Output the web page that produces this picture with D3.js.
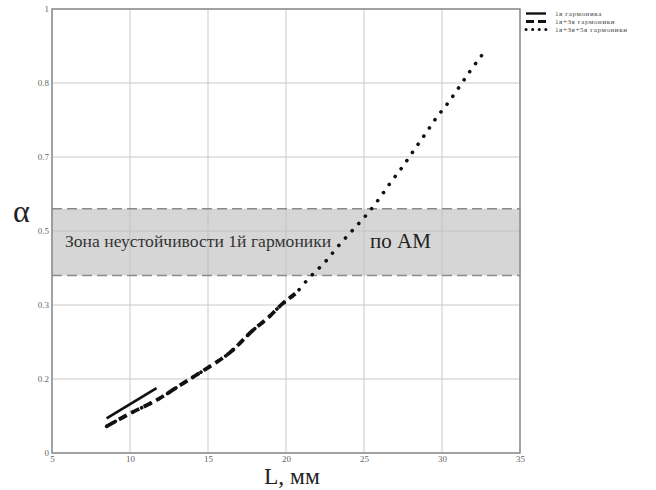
<!DOCTYPE html>
<html>
<head>
<meta charset="utf-8">
<script src="https://cdn.jsdelivr.net/npm/d3@7"></script>
<style>
  html, body { margin: 0; padding: 0; background: #fff; }
  svg { display: block; }
</style>
</head>
<body>
<svg id="chart" width="656" height="490"></svg>
<script>
// Stability parameter α versus length L for the harmonic approximations
const xTicks = [5, 10, 15, 20, 25, 30, 35];
const yTicks = [0, 1/6, 2/6, 3/6, 4/6, 5/6, 1];
const yTickLabels = ["0", "0.2", "0.3", "0.5", "0.7", "0.8", "1"];

// 1st harmonic only
const h1L = [8.5, 11.7];
const h1A = [0.078, 0.146];

// 1st + 3rd harmonics
const h13L = [8.5, 10, 11.7, 13.4, 14.9, 16.4, 17.9, 18.8, 19.8, 20.6];
const h13A = [0.060, 0.089, 0.119, 0.157, 0.190, 0.226, 0.277, 0.303, 0.337, 0.359];

// 1st + 3rd + 5th harmonics
const h135L = [8.5, 10, 11.7, 13.4, 14.9, 16.4, 17.9, 18.8, 19.8, 20.6, 21.5, 22.5, 23.4, 24.3,
               25.2, 26.0, 26.7, 27.5, 28.2, 28.9, 29.6, 30.4, 31.1, 31.8, 32.6];
const h135A = [0.060, 0.089, 0.119, 0.157, 0.190, 0.226, 0.277, 0.303, 0.337, 0.359, 0.395, 0.430,
               0.468, 0.503, 0.538, 0.574, 0.609, 0.646, 0.682, 0.717, 0.753, 0.789, 0.824, 0.860, 0.898];

// instability zone of the 1st harmonic (AM)
const zoneRange = [0.40, 0.55];
const zoneText = "Зона неустойчивости 1й гармоники";
const zoneText2 = "по АМ";

const legendLabels = ["1я гармоника", "1я+3я гармоники", "1я+3я+5я гармоники"];

const SERIF = "Liberation Serif, DejaVu Serif, serif";
const svg = d3.select("#chart").attr("font-family", SERIF);
const pLeft = 52, pRight = 520, pTop = 9, pBottom = 453;

const x = d3.scaleLinear().domain([5, 35]).range([pLeft, pRight]);
const y = d3.scaleLinear().domain([0, 1]).range([pBottom, pTop]);

// grid
const grid = svg.append("g");
grid.selectAll("line.v").data(xTicks).join("line")
  .attr("x1", d => x(d)).attr("x2", d => x(d))
  .attr("y1", pTop).attr("y2", pBottom)
  .attr("stroke", "#c9c9c9").attr("stroke-width", 1);
grid.selectAll("line.h").data(yTicks).join("line")
  .attr("x1", pLeft).attr("x2", pRight)
  .attr("y1", d => y(d)).attr("y2", d => y(d))
  .attr("stroke", "#c9c9c9").attr("stroke-width", 1);

// zone band
svg.append("rect")
  .attr("x", pLeft).attr("width", pRight - pLeft)
  .attr("y", y(zoneRange[1])).attr("height", y(zoneRange[0]) - y(zoneRange[1]))
  .attr("fill", "#d6d6d6");
// grid lines stay faintly visible through the band
svg.append("g").selectAll("line").data(xTicks).join("line")
  .attr("x1", d => x(d)).attr("x2", d => x(d))
  .attr("y1", y(zoneRange[1])).attr("y2", y(zoneRange[0]))
  .attr("stroke", "#c2c2c2").attr("stroke-width", 1);
svg.append("line")
  .attr("x1", pLeft).attr("x2", pRight).attr("y1", y(0.5)).attr("y2", y(0.5))
  .attr("stroke", "#c2c2c2").attr("stroke-width", 1);
svg.append("g").selectAll("line").data(zoneRange).join("line")
  .attr("x1", pLeft).attr("x2", pRight)
  .attr("y1", d => y(d)).attr("y2", d => y(d))
  .attr("stroke", "#8a8a8a").attr("stroke-width", 1.5)
  .attr("stroke-dasharray", "10,5");

svg.append("text").text(zoneText)
  .attr("x", 65).attr("y", 247).attr("font-family", SERIF)
  .attr("font-size", 17.6).attr("fill", "#333");
svg.append("text").text(zoneText2)
  .attr("x", 370).attr("y", 248).attr("font-family", SERIF)
  .attr("font-size", 21).attr("fill", "#222");

// frame
svg.append("rect")
  .attr("x", pLeft).attr("y", pTop).attr("width", pRight - pLeft).attr("height", pBottom - pTop)
  .attr("fill", "none").attr("stroke", "#8c8c8c").attr("stroke-width", 1.5);

// axes
const xAxis = svg.append("g").attr("transform", `translate(0,${pBottom})`)
  .call(d3.axisBottom(x).tickValues(xTicks).tickSize(0).tickPadding(3).tickFormat(d3.format("d")));
xAxis.attr("font-family", SERIF);
xAxis.select(".domain").remove();
xAxis.selectAll("text").attr("font-size", 9).attr("fill", "#666");

const yAxis = svg.append("g").attr("transform", `translate(${pLeft},0)`)
  .call(d3.axisLeft(y).tickValues(yTicks).tickSize(0).tickPadding(3)
    .tickFormat((d, i) => yTickLabels[i]));
yAxis.attr("font-family", SERIF);
yAxis.select(".domain").remove();
yAxis.selectAll("text").attr("font-size", 9).attr("fill", "#666");

// axis titles
svg.append("text").text("α").attr("x", 13).attr("y", 222).attr("font-family", SERIF)
  .attr("font-size", 32).attr("fill", "#222");
svg.append("text").text("L, мм").attr("x", 264).attr("y", 484).attr("font-family", SERIF)
  .attr("font-size", 23.5).attr("fill", "#222");

// curves
const line = d3.line().x(d => x(d[0])).y(d => y(d[1])).curve(d3.curveMonotoneX);
const zip = (a, b) => a.map((v, i) => [v, b[i]]);

svg.append("path").datum(zip(h135L, h135A)).attr("d", line)
  .attr("fill", "none").attr("stroke", "#111").attr("stroke-width", 3.6)
  .attr("stroke-linecap", "round").attr("stroke-dasharray", "0.1,9.8");
svg.append("path").datum(zip(h13L, h13A)).attr("d", line)
  .attr("fill", "none").attr("stroke", "#111").attr("stroke-width", 3.8)
  .attr("stroke-dasharray", "9,5");
svg.append("path").datum(zip(h1L, h1A)).attr("d", line)
  .attr("fill", "none").attr("stroke", "#111").attr("stroke-width", 2.8);

// legend
const lg = svg.append("g");
const legY = [13.5, 21.5, 29.5];
const styles = [
  { w: 2.4, dash: null, cap: "butt" },
  { w: 3.2, dash: "8,4", cap: "butt" },
  { w: 3.0, dash: "0.1,6.5", cap: "round" }
];
legendLabels.forEach((lab, i) => {
  const l = lg.append("line")
    .attr("x1", 526).attr("x2", 546).attr("y1", legY[i]).attr("y2", legY[i])
    .attr("stroke", "#111").attr("stroke-width", styles[i].w)
    .attr("stroke-linecap", styles[i].cap);
  if (styles[i].dash) l.attr("stroke-dasharray", styles[i].dash);
  lg.append("text").text(lab).attr("x", 555).attr("y", legY[i] + 2.5)
    .attr("font-family", SERIF).attr("font-size", 7).attr("letter-spacing", 0.6)
    .attr("fill", "#444");
});
</script>
</body>
</html>
